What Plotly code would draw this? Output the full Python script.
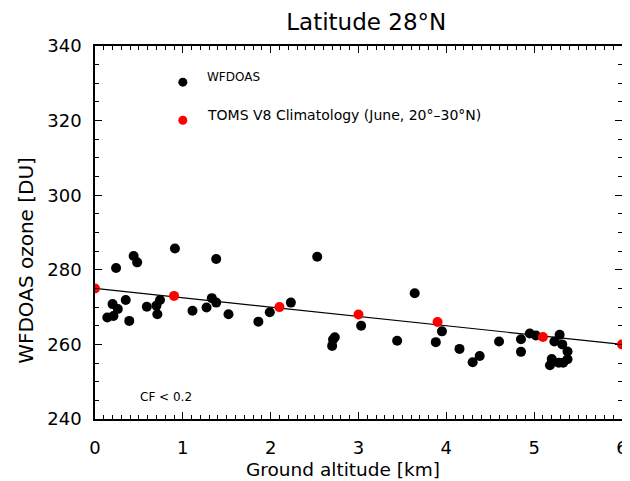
import plotly.graph_objects as go

# WFDOAS observations
wf_alt = [0.14, 0.21, 0.20, 0.26, 0.24, 0.35, 0.39, 0.44, 0.48, 0.59, 0.70, 0.74, 0.71,
          0.91, 1.11, 1.27, 1.33, 1.38, 1.38, 1.52, 1.86, 1.99, 2.23, 2.53, 2.73, 2.71,
          2.70, 3.03, 3.44, 3.64, 3.95, 3.88, 4.15, 4.30, 4.38, 4.60, 4.85, 4.85, 4.95,
          5.02, 5.23, 5.29, 5.32, 5.38, 5.20, 5.18, 5.28, 5.33, 5.38]
wf_o3 = [267.2, 267.6, 270.8, 269.5, 280.5, 271.9, 266.3, 283.7, 282.0, 270.1, 270.4, 271.9, 268.1,
         285.7, 269.0, 269.9, 272.4, 271.2, 282.9, 268.1, 266.1, 268.6, 271.2, 283.5, 261.9, 261.3,
         259.6, 265.0, 261.0, 273.7, 263.5, 260.6, 258.8, 255.2, 256.9, 260.8, 261.4, 258.0, 262.9,
         262.4, 260.8, 262.6, 260.0, 258.1, 256.1, 254.4, 255.1, 255.1, 256.0]

# TOMS V8 climatology
toms_alt = [0.0, 0.9, 2.1, 3.0, 3.9, 5.1, 6.0]
toms_o3 = [275.0, 273.0, 270.0, 268.0, 266.0, 262.0, 260.0]

# reference line
line_alt = [0.0, 6.0]
line_o3 = [275.0, 260.0]

x_ticks = [0, 1, 2, 3, 4, 5, 6]
y_ticks = [240, 260, 280, 300, 320, 340]

FONT = "DejaVu Sans"
MS = 10

fig = go.Figure()
fig.add_trace(go.Scatter(x=line_alt, y=line_o3, mode="lines",
                         line=dict(color="black", width=1.2), showlegend=False))
fig.add_trace(go.Scatter(x=wf_alt, y=wf_o3, mode="markers",
                         marker=dict(color="black", size=MS), showlegend=False))
fig.add_trace(go.Scatter(x=toms_alt, y=toms_o3, mode="markers",
                         marker=dict(color="red", size=MS), showlegend=False))
# legend markers
fig.add_trace(go.Scatter(x=[1.0], y=[330.3], mode="markers",
                         marker=dict(color="black", size=MS - 1), showlegend=False))
fig.add_trace(go.Scatter(x=[1.0], y=[320.1], mode="markers",
                         marker=dict(color="red", size=MS - 1), showlegend=False))

fig.add_annotation(x=1.25, y=331.8, text="WFDOAS", showarrow=False, xanchor="left",
                   yanchor="middle", font=dict(family=FONT, size=12, color="black"))
fig.add_annotation(x=1.25, y=321.4, text="TOMS V8 Climatology (June, 20°–30°N)", showarrow=False,
                   xanchor="left", yanchor="middle", font=dict(family=FONT, size=14, color="black"))
fig.add_annotation(x=0.49, y=246.0, text="CF < 0.2", showarrow=False, xanchor="left",
                   yanchor="middle", font=dict(family=FONT, size=12, color="black"))

# axis titles
fig.add_annotation(xref="paper", yref="paper", x=0.47, y=0, yshift=-50, text="Ground altitude [km]",
                   showarrow=False, xanchor="center", yanchor="middle", borderpad=0,
                   font=dict(family=FONT, size=18.5, color="black"))
fig.add_annotation(xref="paper", yref="paper", x=0, xshift=-69, y=0.424, text="WFDOAS ozone [DU]",
                   textangle=-90, showarrow=False, xanchor="center", yanchor="middle",
                   font=dict(family=FONT, size=20, color="black"))

axis_common = dict(showgrid=False, zeroline=False, showline=True, linecolor="black",
                   linewidth=1.5, mirror="allticks", ticks="inside", tickcolor="black",
                   automargin=False,
                   tickfont=dict(family=FONT, size=18, color="black"))

fig.update_xaxes(range=[0, 6], tickvals=x_ticks, ticklen=7, ticklabelstandoff=12,
                 minor=dict(dtick=0.1, ticklen=4, ticks="inside", tickcolor="black"),
                 **axis_common)
fig.update_yaxes(range=[240, 340], tickvals=y_ticks, ticklen=7, ticklabelstandoff=8,
                 minor=dict(dtick=5, ticklen=4, ticks="inside", tickcolor="black"),
                 **axis_common)

fig.update_layout(
    width=622, height=473,
    margin=dict(l=87, r=8, t=38, b=62),
    paper_bgcolor="white", plot_bgcolor="white",
    title=dict(text="Latitude 28°N", x=0.576, xanchor="center", y=0.970, yanchor="middle",
               font=dict(family=FONT, size=23, color="black")),
)

fig.write_html("out.html")
